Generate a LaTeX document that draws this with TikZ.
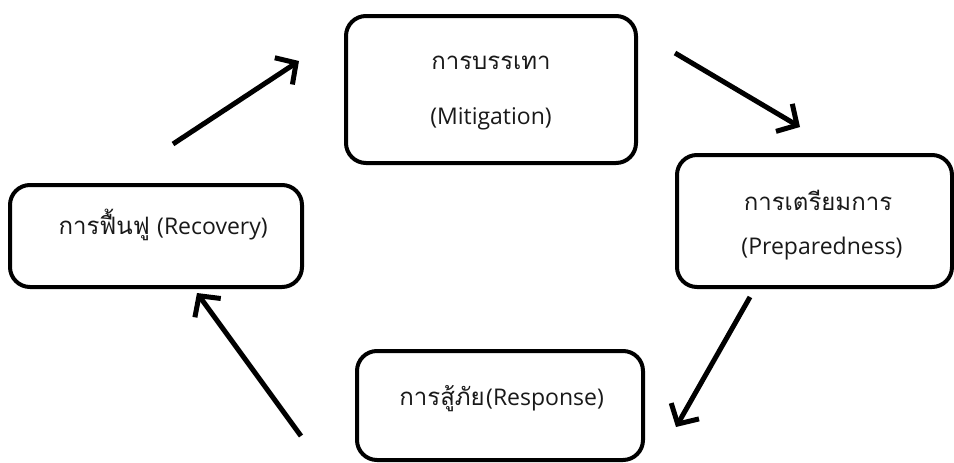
\documentclass[tikz,border=0pt]{standalone}
\usepackage{fontspec}
\setmainfont{Open Sans}
\newfontfamily\thaifont[Script=Thai]{Loma}
\usetikzlibrary{arrows.meta}
\begin{document}
\begin{tikzpicture}[x=1pt,y=-1pt,
  box/.style={draw, line width=4pt, rounded corners=20pt, inner sep=0pt},
  lbl/.style={font=\fontsize{23}{27}\selectfont, inner sep=0pt, text=black!90},
  thlbl/.style={font=\fontsize{24}{28}\selectfont\thaifont, inner sep=0pt, text=black!90},
  arr/.style={line width=5pt, -{Straight Barb[length=15pt,width=32pt]}}
]
\useasboundingbox (0,0) rectangle (954,463);
% boxes
\node[box, minimum width=290pt, minimum height=147pt] (mit) at (491,89.5) {};
\node[box, minimum width=292pt, minimum height=102pt] (rec) at (156,236) {};
\node[box, minimum width=275pt, minimum height=132pt] (prep) at (814.5,221) {};
\node[box, minimum width=286pt, minimum height=109pt] (resp) at (500,405.5) {};
% texts
\node[thlbl] (mitA) at (491,63) {การบรรเทา};
\node[lbl] (mitB) at (491,119) {(Mitigation)};
\node[thlbl] (prepA) at (818,200) {การเตรียมการ};
\node[lbl] (prepB) at (822,249) {(Preparedness)};
\node[thlbl, anchor=base east] (recA) at (150,234) {การฟื้นฟู};
\node[lbl, anchor=base west] (recB) at (157,234) {(Recovery)};
\node[thlbl, anchor=base east] (respA) at (485,405) {การสู้ภัย};
\node[lbl, anchor=base west] (respB) at (486,405) {(Response)};
% arrow ends
\coordinate (a1s) at (173,144); \coordinate (a1e) at (299,61);
\coordinate (a2s) at (675,53);  \coordinate (a2e) at (800,127);
\coordinate (a3s) at (750,297); \coordinate (a3e) at (676,427);
\coordinate (a4s) at (301,436); \coordinate (a4e) at (197,293);
\draw[arr] (a1s) -- (a1e);
\draw[arr] (a2s) -- (a2e);
\draw[arr] (a3s) -- (a3e);
\draw[arr] (a4s) -- (a4e);
\end{tikzpicture}
\end{document}
